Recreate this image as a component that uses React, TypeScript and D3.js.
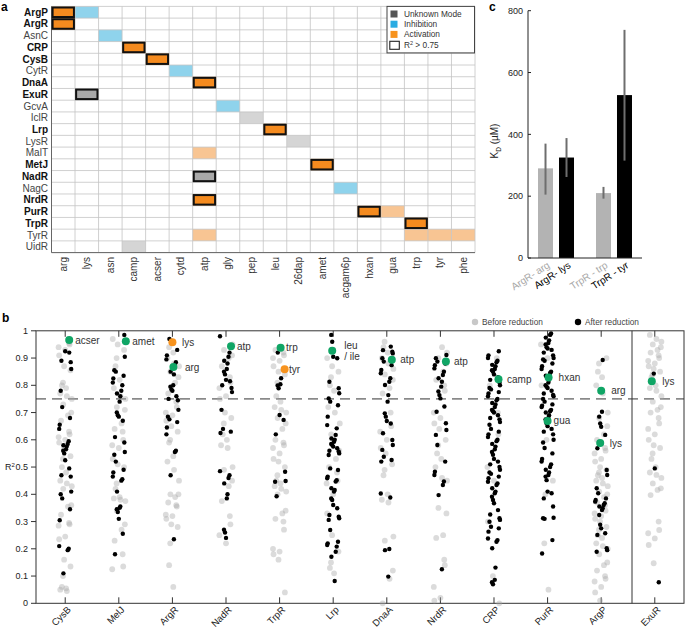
import React from "react";
import * as d3 from "d3";

// ---------------- Panel a data ----------------
const heatRows = ["ArgP","ArgR","AsnC","CRP","CysB","CytR","DnaA","ExuR","GcvA","IclR","Lrp","LysR","MalT","MetJ","NadR","NagC","NrdR","PurR","TrpR","TyrR","UidR"];
const boldRows = ["ArgP","ArgR","CRP","CysB","DnaA","ExuR","Lrp","MetJ","NadR","NrdR","PurR","TrpR"];
const heatCols = ["arg","lys","asn","camp","acser","cytd","atp","gly","pep","leu","26dap","amet","acgam6p","hxan","gua","trp","tyr","phe"];
// [regulator, metabolite, mode, R2 > 0.75]
const heatCells: [string, string, string, boolean][] = [
  ["ArgP","arg","act",true],["ArgP","lys","inh",false],
  ["ArgR","arg","act",true],
  ["AsnC","asn","inh",false],
  ["CRP","camp","act",true],
  ["CysB","acser","act",true],
  ["CytR","cytd","inh",false],
  ["DnaA","atp","act",true],
  ["ExuR","lys","unk",true],
  ["GcvA","gly","inh",false],
  ["IclR","pep","unk",false],
  ["Lrp","leu","act",true],
  ["LysR","26dap","unk",false],
  ["MalT","atp","act",false],
  ["MetJ","amet","act",true],
  ["NadR","atp","unk",true],
  ["NagC","acgam6p","inh",false],
  ["NrdR","atp","act",true],
  ["PurR","hxan","act",true],["PurR","gua","act",false],
  ["TrpR","trp","act",true],
  ["TyrR","atp","act",false],["TyrR","trp","act",false],["TyrR","tyr","act",false],["TyrR","phe","act",false],
  ["UidR","camp","unk",false],
];
const heatLegend = ["Unknown Mode","Inhibition","Activation"];

// ---------------- Panel c data ----------------
const kdGroups = ["ArgR","TrpR"];
const kdLabels = ["ArgR- arg","ArgR- lys","TrpR - trp","TrpR - tyr"];
const kdGroupOf = ["ArgR","ArgR","TrpR","TrpR"];
const kdKind = ["before","after","before","after"];
const kdValues = [290, 325, 210, 527];
const kdLow = [205, 262, 192, 315];
const kdHigh = [370, 388, 230, 738];
const kdTicks = [0, 200, 400, 600, 800];

// ---------------- Panel b data ----------------
const bCats = ["CysB","MelJ","ArgR","NadR","TrpR","Lrp","DnaA","NrdR","CRP","PurR","ArgP","ExuR"];
const cysbAfter = [0.925,0.92,0.89,0.885,0.86,0.78,0.72,0.68,0.655,0.64,0.595,0.585,0.58,0.575,0.565,0.56,0.55,0.525,0.495,0.47,0.465,0.41,0.40,0.385,0.345,0.305,0.21,0.2,0.195,0.11];
const cysbBefore = [0.955,0.95,0.94,0.93,0.91,0.87,0.855,0.81,0.80,0.79,0.77,0.76,0.75,0.73,0.70,0.69,0.67,0.63,0.62,0.61,0.60,0.59,0.57,0.54,0.53,0.50,0.48,0.45,0.44,0.43,0.42,0.36,0.355,0.325,0.295,0.29,0.285,0.245,0.235,0.16,0.135,0.10,0.06,0.055,0.05,0.045];
const meljAfter = [0.985,0.905,0.855,0.85,0.835,0.825,0.81,0.80,0.78,0.77,0.76,0.74,0.70,0.69,0.685,0.67,0.61,0.59,0.555,0.545,0.52,0.49,0.48,0.465,0.455,0.45,0.41,0.355,0.35,0.345,0.335,0.31,0.255,0.18];
const meljBefore = [0.97,0.95,0.93,0.90,0.87,0.82,0.79,0.76,0.75,0.72,0.71,0.66,0.64,0.63,0.60,0.58,0.57,0.53,0.51,0.50,0.44,0.42,0.39,0.385,0.38,0.375,0.34,0.29,0.27,0.23,0.18,0.135,0.125];
const argrAfter = [0.97,0.93,0.91,0.895,0.885,0.875,0.85,0.84,0.80,0.795,0.785,0.78,0.76,0.75,0.745,0.71,0.685,0.675,0.665,0.645,0.62,0.56,0.555,0.47,0.235];
const argrBefore = [0.94,0.92,0.90,0.88,0.87,0.85,0.83,0.81,0.77,0.74,0.72,0.70,0.69,0.67,0.65,0.63,0.60,0.59,0.54,0.52,0.49,0.45,0.40,0.40,0.39,0.37,0.36,0.355,0.325,0.32,0.31,0.29,0.28,0.22,0.14,0.06];
const nadrAfter = [0.98,0.92,0.905,0.89,0.88,0.86,0.85,0.84,0.82,0.815,0.80,0.79,0.775,0.71,0.64,0.63,0.625,0.485,0.47,0.46,0.44,0.40,0.385,0.27,0.26,0.24];
const nadrBefore = [0.95,0.93,0.91,0.90,0.87,0.83,0.81,0.79,0.76,0.75,0.70,0.68,0.66,0.62,0.60,0.58,0.57,0.50,0.49,0.45,0.43,0.375,0.32,0.29,0.25,0.22];
const trprAfter = [0.92,0.826,0.804,0.799,0.789,0.691,0.673,0.62,0.483,0.449,0.446,0.393];
const trprBefore = [0.93,0.92,0.91,0.90,0.89,0.87,0.85,0.84,0.81,0.76,0.74,0.72,0.71,0.70,0.68,0.66,0.64,0.60,0.59,0.58,0.57,0.55,0.53,0.52,0.50,0.47,0.45,0.44,0.43,0.42,0.41,0.40,0.34,0.33,0.31,0.30,0.27,0.20,0.19,0.18,0.16,0.04];
const lrpAfter = [0.985,0.96,0.905,0.899,0.813,0.789,0.771,0.752,0.74,0.727,0.685,0.654,0.642,0.618,0.605,0.60,0.593,0.585,0.581,0.575,0.569,0.56,0.557,0.55,0.544,0.495,0.489,0.465,0.459,0.452,0.447,0.422,0.416,0.41,0.385,0.379,0.361,0.349,0.324,0.318,0.312,0.306,0.269,0.226,0.22,0.214,0.208,0.189,0.171,0.082];
const lrpBefore = [0.93,0.90,0.87,0.85,0.83,0.80,0.78,0.72,0.70,0.66,0.62,0.56,0.53,0.50,0.48,0.45,0.44,0.40,0.33,0.25,0.19,0.15,0.13,0.11];
const dnaaAfter = [0.942,0.929,0.923,0.917,0.899,0.887,0.874,0.856,0.844,0.826,0.813,0.801,0.764,0.74,0.697,0.685,0.669,0.66,0.624,0.599,0.581,0.563,0.538,0.526,0.52,0.403,0.388,0.199,0.195,0.098];
const dnaaBefore = [0.96,0.94,0.92,0.90,0.88,0.86,0.84,0.82,0.79,0.77,0.70,0.65,0.63,0.60,0.57,0.55,0.51,0.49,0.47,0.40,0.38,0.37,0.245,0.23,0.12,0.09,0.0];
const nrdrAfter = [0.911,0.899,0.887,0.88,0.874,0.862,0.85,0.838,0.826,0.813,0.795,0.777,0.764,0.752,0.722,0.703,0.661,0.636,0.618,0.581,0.52,0.483,0.471,0.447,0.434,0.397,0.125];
const nrdrBefore = [0.94,0.92,0.90,0.88,0.85,0.82,0.80,0.78,0.70,0.68,0.66,0.64,0.60,0.58,0.55,0.53,0.50,0.46,0.45,0.35,0.33,0.25,0.24,0.16,0.14,0.06,0.02,0.01];
const crpAfter = [0.925,0.91,0.90,0.89,0.885,0.875,0.87,0.86,0.855,0.85,0.84,0.83,0.82,0.81,0.80,0.79,0.785,0.775,0.77,0.76,0.75,0.745,0.735,0.73,0.72,0.71,0.705,0.70,0.69,0.68,0.675,0.665,0.655,0.64,0.63,0.62,0.61,0.60,0.595,0.585,0.575,0.565,0.555,0.545,0.53,0.52,0.51,0.50,0.49,0.48,0.475,0.465,0.459,0.446,0.44,0.434,0.422,0.41,0.404,0.391,0.379,0.367,0.342,0.326,0.312,0.306,0.299,0.281,0.275,0.263,0.238,0.232,0.226,0.202,0.131,0.086,0.077,0.07];
const crpBefore = [0.90,0.80,0.70,0.62,0.50,0.45,0.30,0.10,0.0];
const purrAfter = [0.99,0.985,0.975,0.965,0.955,0.95,0.94,0.935,0.93,0.92,0.91,0.90,0.895,0.89,0.88,0.87,0.86,0.85,0.845,0.835,0.82,0.81,0.80,0.795,0.79,0.78,0.77,0.765,0.76,0.75,0.74,0.73,0.725,0.72,0.71,0.705,0.70,0.69,0.68,0.675,0.66,0.65,0.64,0.63,0.62,0.60,0.59,0.57,0.55,0.53,0.52,0.51,0.50,0.49,0.48,0.471,0.465,0.452,0.41,0.404,0.385,0.355,0.314,0.312,0.31,0.232,0.183];
const purrBefore = [0.95,0.90,0.80,0.60,0.45,0.40,0.22,0.05];
const argpAfter = [0.893,0.703,0.685,0.66,0.648,0.618,0.569,0.489,0.471,0.422,0.404,0.385,0.379,0.373,0.367,0.361,0.355,0.349,0.342,0.324,0.288,0.275,0.257,0.251,0.202,0.195,0.189];
const argpBefore = [0.90,0.88,0.85,0.83,0.80,0.77,0.70,0.68,0.65,0.62,0.60,0.57,0.56,0.55,0.53,0.52,0.50,0.49,0.48,0.47,0.46,0.45,0.44,0.43,0.41,0.40,0.39,0.37,0.36,0.34,0.33,0.32,0.31,0.30,0.28,0.27,0.25,0.24,0.22,0.21,0.20,0.18,0.15,0.14,0.12,0.10,0.09,0.08,0.06,0.04,0.01];
const exurAfter = [0.843,0.495,0.077];
const exurBefore = [0.985,0.97,0.96,0.95,0.94,0.93,0.92,0.91,0.90,0.89,0.88,0.87,0.86,0.85,0.84,0.83,0.80,0.79,0.78,0.76,0.74,0.72,0.71,0.70,0.68,0.66,0.64,0.62,0.60,0.58,0.57,0.55,0.53,0.50,0.48,0.471,0.46,0.44,0.422,0.416,0.397,0.30,0.269,0.257,0.238,0.214,0.147];
const afterSets = [cysbAfter,meljAfter,argrAfter,nadrAfter,trprAfter,lrpAfter,dnaaAfter,nrdrAfter,crpAfter,purrAfter,argpAfter,exurAfter];
const beforeSets = [cysbBefore,meljBefore,argrBefore,nadrBefore,trprBefore,lrpBefore,dnaaBefore,nrdrBefore,crpBefore,purrBefore,argpBefore,exurBefore];

const hlCats = ["CysB","MelJ","ArgR","ArgR","NadR","TrpR","TrpR","Lrp","DnaA","NrdR","CRP","PurR","PurR","ArgP","ArgP","ExuR"];
const hlValues = [0.966,0.962,0.958,0.867,0.943,0.938,0.859,0.927,0.894,0.887,0.822,0.829,0.669,0.780,0.588,0.815];
const hlLabels = ["acser","amet","lys","arg","atp","trp","tyr","leu|/ ile","atp","atp","camp","hxan","gua","arg","lys","lys"];
const hlKind = ["known","known","other","known","known","known","other","known","known","known","known","known","known","known","known","known"];
const yTicksB = [0,0.1,0.2,0.3,0.4,0.5,0.6,0.7,0.8,0.9,1];

// ---------------- styles ----------------
const FONT = "'Liberation Sans', Arial, Helvetica, sans-serif";
const ORANGE = "#f7931e";
const GREEN = "#10a565";
const cellFill: Record<string, [string, string]> = {
  act: ["#f58b1f", "#f8c593"],
  inh: ["#29abe2", "#8fd3ec"],
  unk: ["#a9a9a9", "#d5d5d5"],
};
const legendColor = ["#555555", "#29abe2", ORANGE];
const hlDx = [4, 7, 0, 1, 5, 1, 5, -1, 5, 5.5, 4.5, 1, 0, 0, -1, -3];
const hlTextDx = [6, 6.5, 9.5, 11.5, 6, 5.5, 4.5, 12, 8.5, 8, 8.5, 10, 6, 10, 9.5, 10.5];
const jitterPx = [0, -4.5, 3.5, -2, 5.5, -5.5, 1.5, 4, -3, 2.5, -1, 6, -6, 0.8, -3.8, 4.8, -1.8];

export default function App() {
  // ---- panel a scales
  const ax = d3.scaleBand<string>().domain(heatCols).range([51.5, 475]);
  const ay = d3.scaleBand<string>().domain(heatRows).range([6.4, 252.6]);
  const bw = ax.bandwidth();
  const bh = ay.bandwidth();

  // ---- panel c scales
  const cy = d3.scaleLinear().domain([0, 800]).range([258, 10.7]);
  const cg = d3.scalePoint<string>().domain(kdGroups).range([528, 642]).padding(0.483);
  const cin = d3.scalePoint<string>().domain(["before", "after"]).range([-10.5, 10.5]);
  const barW = 15;

  // ---- panel b scales
  const bx = d3.scalePoint<string>().domain(bCats).range([36, 684]).padding(0.545);
  const by = d3.scaleLinear().domain([0, 1]).range([603.3, 330.8]);
  const sepX = 632;

  return (
    <div style={{ position: "absolute", left: 0, top: 0 }}>
      <svg width={685} height={630} style={{ display: "block", fontFamily: FONT }}>
        <rect x={0} y={0} width={685} height={630} fill="#fff" />
        {/* ============ Panel a ============ */}
        <text x={1} y={11} fontSize={12} fontWeight="bold">a</text>
        {heatCells.map(([r, c, m, s], i) => (
          <rect key={"cf" + i} x={ax(c)!} y={ay(r)!} width={bw} height={bh} fill={cellFill[m][s ? 0 : 1]} />
        ))}
        {d3.range(heatCols.length + 1).map((i) => (
          <line key={"gv" + i} x1={51.5 + i * bw} x2={51.5 + i * bw} y1={6.4} y2={252.6} stroke="#c4c4c4" strokeWidth={0.8} />
        ))}
        {d3.range(heatRows.length + 1).map((i) => (
          <line key={"gh" + i} x1={51.5} x2={475} y1={6.4 + i * bh} y2={6.4 + i * bh} stroke="#c4c4c4" strokeWidth={0.8} />
        ))}
        <line x1={51.5} x2={51.5} y1={6.4} y2={252.6} stroke="#666" strokeWidth={1} />
        <line x1={51.5} x2={475} y1={252.6} y2={252.6} stroke="#666" strokeWidth={1} />
        {heatCells.filter((d) => d[3]).map(([r, c], i) => (
          <rect key={"cb" + i} x={ax(c)! + 1.1} y={ay(r)! + 1.1} width={bw - 2.2} height={bh - 2.2} fill="none" stroke="#111" strokeWidth={2} />
        ))}
        {heatRows.map((r) => (
          <text key={"rl" + r} x={48} y={ay(r)! + bh / 2} dy="0.35em" textAnchor="end" fontSize={10}
            fontWeight={boldRows.includes(r) ? "bold" : "normal"} fill={boldRows.includes(r) ? "#111" : "#444"}>{r}</text>
        ))}
        {heatCols.map((c) => (
          <text key={"cl" + c} transform={`translate(${ax(c)! + bw / 2},257) rotate(-90)`} dy="0.35em" textAnchor="end" fontSize={10} fill="#333">{c}</text>
        ))}
        <rect x={387} y={6.4} width={87.5} height={46.5} fill="#fff" stroke="#444" strokeWidth={1} />
        {heatLegend.map((t, i) => (
          <g key={"hl" + i}>
            <rect x={390.5} y={10.5 + i * 10.2} width={7} height={7} fill={legendColor[i]} />
            <text x={404} y={14 + i * 10.2} dy="0.35em" fontSize={8.3} fill="#333">{t}</text>
          </g>
        ))}
        <rect x={389.8} y={41.3} width={9.5} height={8} fill="#fff" stroke="#222" strokeWidth={1.1} />
        <text x={404} y={45.3} dy="0.35em" fontSize={8.3} fill="#333">R<tspan dy="-3.5" fontSize={5.5}>2</tspan><tspan dy="3.5"> &gt; 0.75</tspan></text>

        {/* ============ Panel c ============ */}
        <text x={489} y={11} fontSize={12} fontWeight="bold">c</text>
        {kdValues.map((v, i) => {
          const cx = cg(kdGroupOf[i])! + cin(kdKind[i])!;
          return (
            <g key={"kb" + i}>
              <rect x={cx - barW / 2} y={cy(v)} width={barW} height={cy(0) - cy(v)} fill={kdKind[i] === "before" ? "#b3b3b3" : "#000"} />
              <line x1={cx} x2={cx} y1={cy(kdLow[i])} y2={cy(kdHigh[i])} stroke="#6e6e6e" strokeWidth={2} />
              <text transform={`translate(${cx + 3},${264}) rotate(-33)`} textAnchor="end" dy="0.35em" fontSize={10}
                fill={kdKind[i] === "before" ? "#a8a8a8" : "#000"}>{kdLabels[i]}</text>
            </g>
          );
        })}
        <line x1={528} x2={528} y1={10.7} y2={258} stroke="#222" strokeWidth={1} />
        <line x1={528} x2={642} y1={258} y2={258} stroke="#222" strokeWidth={1} />
        {kdTicks.map((t) => (
          <g key={"kt" + t}>
            <line x1={528} x2={531} y1={cy(t)} y2={cy(t)} stroke="#222" />
            <text x={523} y={cy(t)} dy="0.35em" textAnchor="end" fontSize={9} fill="#222">{t}</text>
          </g>
        ))}
        <text transform="translate(498,141) rotate(-90)" textAnchor="middle" fontSize={10} fill="#222">
          K<tspan dy="2.5" fontSize={6.5}>D</tspan><tspan dy="-2.5"> (µM)</tspan>
        </text>

        {/* ============ Panel b ============ */}
        <text x={2} y={322} fontSize={12} fontWeight="bold">b</text>
        <circle cx={475} cy={322} r={3.2} fill="#c8c8c8" />
        <text x={482} y={322} dy="0.35em" fontSize={8.3} fill="#444">Before reduction</text>
        <circle cx={578} cy={322} r={3.2} fill="#000" />
        <text x={585} y={322} dy="0.35em" fontSize={8.3} fill="#444">After reduction</text>
        <rect x={36} y={by(1)} width={648} height={by(0) - by(1)} fill="none" stroke="#333" strokeWidth={1} />
        <line x1={sepX} x2={sepX} y1={by(1)} y2={by(0)} stroke="#333" strokeWidth={1} />
        <line x1={36} x2={684} y1={by(0.75)} y2={by(0.75)} stroke="#333" strokeWidth={1} strokeDasharray="10,6" />
        {yTicksB.map((t) => (
          <g key={"yt" + t}>
            <line x1={31} x2={36} y1={by(t)} y2={by(t)} stroke="#333" />
            <text x={28} y={by(t)} dy="0.35em" textAnchor="end" fontSize={9} fill="#222">
              {t === 0 || t === 1 ? String(t) : t.toFixed(1)}
            </text>
          </g>
        ))}
        <text x={5} y={by(0.5)} dy="0.35em" fontSize={9} fill="#222">R<tspan dy="-3.5" fontSize={6}>2</tspan></text>
        {bCats.map((c) => (
          <g key={"xt" + c}>
            <line x1={bx(c)!} x2={bx(c)!} y1={by(0)} y2={by(0) - 6} stroke="#333" />
            <line x1={bx(c)!} x2={bx(c)!} y1={by(1)} y2={by(1) + 6} stroke="#333" />
            <text transform={`translate(${bx(c)! + 4},${608}) rotate(-45)`} textAnchor="end" dy="0.35em" fontSize={9.5} fill="#222">{c}</text>
          </g>
        ))}
        {beforeSets.map((arr, ci) =>
          arr.map((v, i) => (
            <circle key={`b${ci}-${i}`} cx={bx(bCats[ci])! + jitterPx[(i * 5 + ci * 3 + 2) % jitterPx.length] * 1.1}
              cy={by(v)} r={2.9} fill="#a9a9a9" fillOpacity={0.42} />
          ))
        )}
        {afterSets.map((arr, ci) =>
          arr.map((v, i) => (
            <circle key={`a${ci}-${i}`} cx={bx(bCats[ci])! + jitterPx[(i * 7 + ci * 4) % jitterPx.length]}
              cy={by(v)} r={2.2} fill="#000" />
          ))
        )}
        {hlValues.map((v, i) => {
          const px = bx(hlCats[i])! + hlDx[i];
          const py = by(v);
          const lines = hlLabels[i].split("|");
          return (
            <g key={"h" + i}>
              <circle cx={px} cy={py} r={4} fill={hlKind[i] === "known" ? GREEN : ORANGE} />
              {lines.length === 1 ? (
                <text x={px + hlTextDx[i]} y={py} dy="0.35em" fontSize={10} fill="#333">{lines[0]}</text>
              ) : (
                <text x={px + hlTextDx[i]} y={py - 5} dy="0.35em" fontSize={10} fill="#333">
                  <tspan x={px + hlTextDx[i]}>{lines[0]}</tspan>
                  <tspan x={px + hlTextDx[i]} dy="11">{lines[1]}</tspan>
                </text>
              )}
            </g>
          );
        })}
      </svg>
    </div>
  );
}
